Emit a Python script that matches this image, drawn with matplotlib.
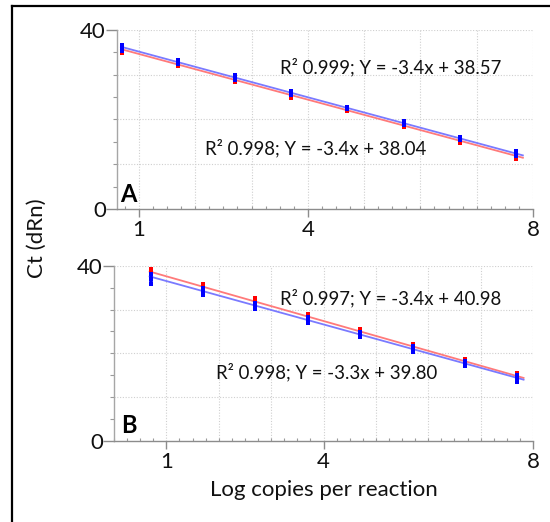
import matplotlib
matplotlib.use("Agg")
import matplotlib.pyplot as plt
from matplotlib.lines import Line2D
from matplotlib.ticker import MultipleLocator, FixedLocator
import numpy as np

plt.rcParams['font.family'] = ['Lato', 'DejaVu Sans']

# Log copies per reaction (dilution series)
log_copies = [0.7, 1.7, 2.7, 3.7, 4.7, 5.7, 6.7, 7.7]

# Panel A: Ct replicates per dilution
a_blue_ct = [[36.6, 36.0, 35.4], [33.2, 32.8, 32.4], [30.0, 29.4, 28.9], [26.4, 26.0, 25.5],
             [22.9, 22.6, 22.3], [19.6, 19.2, 18.8], [16.2, 15.8, 15.4], [12.9, 12.4, 11.9]]
a_red_ct = [[35.9, 35.3, 34.9], [32.5, 32.2, 31.9], [29.1, 28.8, 28.4], [25.9, 25.3, 24.9],
            [22.3, 22.0, 21.8], [18.9, 18.6, 18.3], [15.5, 15.2, 14.8], [12.2, 11.7, 11.2]]

# Panel B: Ct replicates per dilution
b_red_ct = [[39.2, 38.4, 37.5], [35.9, 35.2, 34.6], [32.6, 31.8, 31.2], [29.0, 28.4, 27.8],
            [25.6, 25.0, 24.6], [22.2, 21.6, 21.2], [18.8, 18.3, 17.9], [15.6, 14.9, 14.3]]
b_blue_ct = [[38.0, 37.0, 35.8], [34.8, 34.0, 33.4], [31.5, 30.8, 30.2], [28.2, 27.5, 26.9],
             [24.8, 24.2, 23.8], [21.6, 20.9, 20.3], [18.2, 17.6, 17.1], [15.0, 14.2, 13.4]]

# Standard-curve fits: (R², slope, intercept)
a_blue_fit = (0.999, -3.4, 38.57)
a_red_fit = (0.998, -3.4, 38.04)
b_red_fit = (0.997, -3.4, 40.98)
b_blue_fit = (0.998, -3.3, 39.80)

x_ticks = [1, 4, 8]
y_ticks = [0, 40]
fit_range = (0.68, 7.82)

RED, BLUE = '#ff0000', '#0000ff'
RED_LINE, BLUE_LINE = '#ff7a7a', '#7a7aff'
TEXT = '#111111'

fig = plt.figure(figsize=(5.5, 5.22), dpi=100)

ax_a = fig.add_axes([117 / 550, 1 - 209 / 522, (533 - 117) / 550, (209 - 30) / 522])
ax_b = fig.add_axes([114 / 550, 1 - 441 / 522, (533 - 114) / 550, (441 - 265.7) / 522])


def style_axes(ax, xmin):
    ax.set_xlim(xmin, 8)
    ax.set_ylim(0, 40)
    for sp in ('top', 'right'):
        ax.spines[sp].set_visible(False)
    ax.spines['left'].set_color('#a6a6a6')
    ax.spines['bottom'].set_color('#8c8c8c')
    ax.spines['left'].set_linewidth(1.0)
    ax.spines['bottom'].set_linewidth(1.0)
    for gx in range(1, 9):
        ax.axvline(gx, color='#cfcfcf', lw=0.8, ls=(0, (1, 1.5)), zorder=0)
    for gy in range(10, 41, 10):
        ax.axhline(gy, color='#cfcfcf', lw=0.8, ls=(0, (1, 1.5)), zorder=0)
    ax.xaxis.set_major_locator(FixedLocator(x_ticks))
    ax.yaxis.set_major_locator(FixedLocator(y_ticks))
    ax.xaxis.set_minor_locator(MultipleLocator(0.25))
    ax.yaxis.set_minor_locator(MultipleLocator(5))
    ax.tick_params(axis='x', which='major', length=6, width=1, color='#8c8c8c',
                   labelsize=16, pad=2, labelcolor=TEXT)
    ax.tick_params(axis='y', which='major', length=8, width=1, color='#8c8c8c',
                   labelsize=16, pad=0, labelcolor=TEXT)
    ax.tick_params(axis='x', which='minor', length=2, width=0.8, color='#9a9a9a', direction='in')
    ax.tick_params(axis='y', which='minor', length=3, width=0.8, color='#9a9a9a')


def draw_series(ax, reps, fit, point_color, line_color, z):
    _, slope, intercept = fit
    xs = np.array(fit_range)
    ax.plot(xs, slope * xs + intercept, color=line_color, lw=1.3, zorder=z)
    for x, ys in zip(log_copies, reps):
        ax.vlines(x, min(ys), max(ys), color=point_color, lw=2.6, zorder=z + 1)
        ax.plot([x] * len(ys), ys, ls='none', marker='s', ms=2.4, mew=0,
                color=point_color, zorder=z + 1)


def fit_label(fit):
    r2, slope, intercept = fit
    return f"R\u00b2 {r2:.3f}; Y = {slope:.1f}x + {intercept:.2f}"


LABEL_SIZE = 13.4

style_axes(ax_a, 0.61)
draw_series(ax_a, a_red_ct, a_red_fit, RED, RED_LINE, 2)
draw_series(ax_a, a_blue_ct, a_blue_fit, BLUE, BLUE_LINE, 4)
ax_a.text(3.50, 31.7, fit_label(a_blue_fit), fontsize=LABEL_SIZE, va='center', ha='left', color=TEXT)
ax_a.text(2.17, 13.6, fit_label(a_red_fit), fontsize=LABEL_SIZE, va='center', ha='left', color=TEXT)
ax_a.text(0.66, 0.6, 'A', fontsize=17, fontweight='bold', va='bottom', ha='left')

style_axes(ax_b, 0.0)
draw_series(ax_b, b_red_ct, b_red_fit, RED, RED_LINE, 2)
draw_series(ax_b, b_blue_ct, b_blue_fit, BLUE, BLUE_LINE, 4)
ax_b.text(3.16, 32.6, fit_label(b_red_fit), fontsize=LABEL_SIZE, va='center', ha='left', color=TEXT)
ax_b.text(1.94, 15.8, fit_label(b_blue_fit), fontsize=LABEL_SIZE, va='center', ha='left', color=TEXT)
ax_b.text(0.14, 0.9, 'B', fontsize=17, fontweight='bold', va='bottom', ha='left')

ax_b.set_xlabel('Log copies per reaction', fontsize=16, color=TEXT, labelpad=6)
fig.text(37 / 550, 1 - 238 / 522, 'Ct (dRn)', rotation=90, fontsize=16,
         va='center', ha='center', color=TEXT)

# Frame lines along the top and left edges
fig.add_artist(Line2D([11.5 / 550, 1.0], [1 - 5.5 / 522, 1 - 5.5 / 522],
                      transform=fig.transFigure, color='black', lw=1.6))
fig.add_artist(Line2D([11.5 / 550, 11.5 / 550], [0.0, 1 - 5.5 / 522],
                      transform=fig.transFigure, color='black', lw=1.6))

fig.savefig('out.png', dpi=100)
